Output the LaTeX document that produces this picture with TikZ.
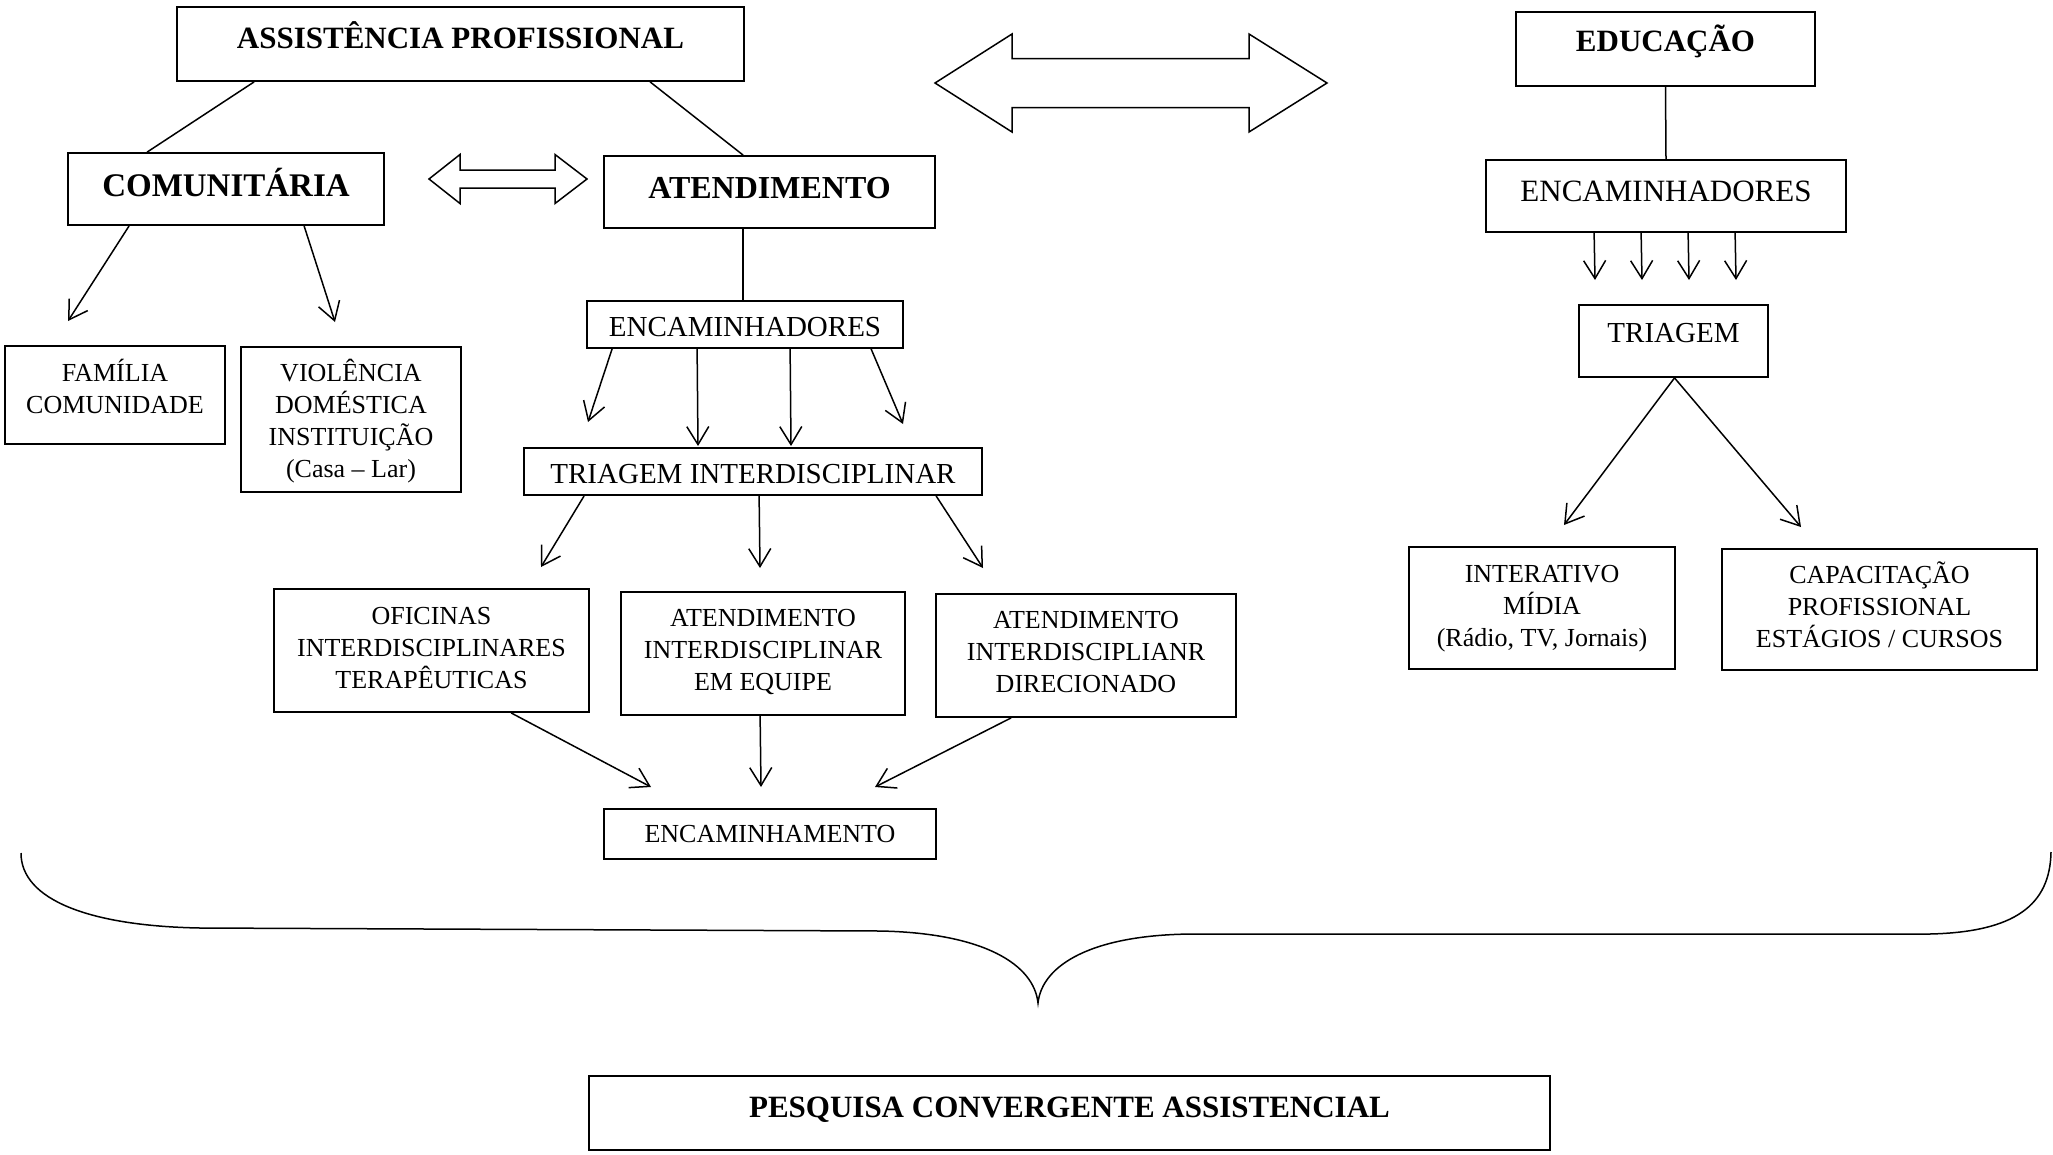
\documentclass[tikz,border=0pt]{standalone}
\usepackage{fontspec}
\setmainfont{Liberation Serif}
\usetikzlibrary{arrows.meta}
\newcommand\upbox[2]{\raisebox{#1}[\height][\depth]{#2}}
\newcommand\upml[2]{\raisebox{#1}[\height][\depth]{\begin{tabular}{@{}c@{}}#2\end{tabular}}}
\begin{document}
\begin{tikzpicture}[x=1pt,y=-1pt,
 box/.style={draw, line width=1.8pt, align=center, inner sep=0pt},
 conn/.style={line width=1.5pt},
 arr/.style={line width=1.5pt, -{Straight Barb[length=18pt,width=22pt]}},
 dblarrow/.style={draw, line width=1.5pt, line join=miter},
 bigtxt/.style={font=\fontsize{31}{36}\selectfont\bfseries},
 midtxt/.style={font=\fontsize{29}{34}\selectfont},
 smalltxt/.style={font=\fontsize{26}{32}\selectfont},
]
\useasboundingbox[fill=white] (0,0) rectangle (2053,1154);

% boxes
\node[box,bigtxt,minimum width=567pt,minimum height=74pt] (assist) at (460.5,44) {\upbox{9pt}{ASSISTÊNCIA PROFISSIONAL}};
\node[box,font=\fontsize{33}{38}\selectfont\bfseries,minimum width=316pt,minimum height=72pt] (comun) at (226,189) {\upbox{6.5pt}{COMUNITÁRIA}};
\node[box,font=\fontsize{32}{38}\selectfont\bfseries,minimum width=331pt,minimum height=72pt] (atend) at (769.5,192) {\upbox{4pt}{ATENDIMENTO}};
\node[box,bigtxt,minimum width=299pt,minimum height=74pt] (edu) at (1665.5,49) {\upbox{8pt}{EDUCAÇÃO}};
\node[box,font=\fontsize{31}{36}\selectfont,minimum width=360pt,minimum height=72pt] (encR) at (1666,196) {\upbox{5pt}{ENCAMINHADORES}};
\node[box,midtxt,minimum width=189pt,minimum height=72pt] (triR) at (1673.5,341) {\upbox{8pt}{TRIAGEM}};
\node[box,smalltxt,minimum width=266pt,minimum height=122pt] (inter) at (1542,608) {\upml{0pt}{INTERATIVO\\MÍDIA\\(Rádio, TV, Jornais)}};
\node[box,smalltxt,minimum width=315pt,minimum height=121pt] (capac) at (1879.5,609.5) {\upml{0.5pt}{CAPACITAÇÃO\\PROFISSIONAL\\ESTÁGIOS / CURSOS}};
\node[box,smalltxt,minimum width=220pt,minimum height=98pt] (fam) at (115,395) {\upml{4pt}{FAMÍLIA\\COMUNIDADE}};
\node[box,smalltxt,minimum width=220pt,minimum height=145pt] (viol) at (351,419.5) {\upml{-4pt}{VIOLÊNCIA\\DOMÉSTICA\\INSTITUIÇÃO\\(Casa – Lar)}};
\node[box,midtxt,minimum width=316pt,minimum height=47pt] (encL) at (745,324.5) {\upbox{-2.5pt}{ENCAMINHADORES}};
\node[box,midtxt,minimum width=458pt,minimum height=47pt] (triL) at (753,471.5) {\upbox{-2.5pt}{TRIAGEM INTERDISCIPLINAR}};
\node[box,smalltxt,minimum width=315pt,minimum height=123pt] (ofic) at (431.5,650.5) {\upml{0.5pt}{OFICINAS\\INTERDISCIPLINARES\\TERAPÊUTICAS}};
\node[box,smalltxt,minimum width=284pt,minimum height=123pt] (ateq) at (763,653.5) {\upml{1pt}{ATENDIMENTO\\INTERDISCIPLINAR\\EM EQUIPE}};
\node[box,smalltxt,minimum width=300pt,minimum height=123pt] (atdir) at (1086,655.5) {\upml{1.5pt}{ATENDIMENTO\\INTERDISCIPLIANR\\DIRECIONADO}};
\node[box,smalltxt,minimum width=332pt,minimum height=50pt] (encam) at (770,834) {ENCAMINHAMENTO};
\node[box,bigtxt,minimum width=961pt,minimum height=74pt] (pesq) at (1069.5,1113) {\upbox{3pt}{PESQUISA CONVERGENTE ASSISTENCIAL}};

% arrow tip coordinates
\coordinate (t1) at (68,321);
\coordinate (t2) at (335,322);
\coordinate (t3) at (588,422);
\coordinate (t4) at (698,446);
\coordinate (t5) at (791,446);
\coordinate (t6) at (903,424);
\coordinate (t7) at (541,567);
\coordinate (t8) at (760,568);
\coordinate (t9) at (983,568);
\coordinate (t10) at (651,787);
\coordinate (t11) at (761,787);
\coordinate (t12) at (875,787);
\coordinate (r1) at (1595,280);
\coordinate (r2) at (1642,280);
\coordinate (r3) at (1689,280);
\coordinate (r4) at (1736,280);
\coordinate (r5) at (1564,525);
\coordinate (r6) at (1801,527);

% plain lines
\draw[conn] ([xshift=78pt]assist.south west) -- ([xshift=80pt]comun.north west);
\draw[conn] ([xshift=474pt]assist.south west) -- ([xshift=140pt]atend.north west);
\draw[conn] ([xshift=140pt]atend.south west) -- ([xshift=157pt]encL.north west);
\draw[conn] (edu.south) -- (encR.north);

% arrows left
\draw[arr] ([xshift=62pt]comun.south west) -- (t1);
\draw[arr] ([xshift=237pt]comun.south west) -- (t2);
\draw[arr] ([xshift=26pt]encL.south west) -- (t3);
\draw[arr] ([xshift=111pt]encL.south west) -- (t4);
\draw[arr] ([xshift=204pt]encL.south west) -- (t5);
\draw[arr] ([xshift=285pt]encL.south west) -- (t6);
\draw[arr] ([xshift=61pt]triL.south west) -- (t7);
\draw[arr] ([xshift=236pt]triL.south west) -- (t8);
\draw[arr] ([xshift=413pt]triL.south west) -- (t9);
\draw[arr] ([xshift=238pt]ofic.south west) -- (t10);
\draw[arr] ([xshift=140pt]ateq.south west) -- (t11);
\draw[arr] ([xshift=76pt]atdir.south west) -- (t12);

% arrows right
\draw[arr] ([xshift=109pt]encR.south west) -- (r1);
\draw[arr] ([xshift=156pt]encR.south west) -- (r2);
\draw[arr] ([xshift=203pt]encR.south west) -- (r3);
\draw[arr] ([xshift=250pt]encR.south west) -- (r4);
\draw[arr] ([xshift=1pt]triR.south) -- (r5);
\draw[arr] ([xshift=1pt]triR.south) -- (r6);

% double block arrows
\draw[dblarrow] (429,179) -- (460,154.5) -- (460,170) -- (555,170) -- (555,154.5) -- (587,179)
  -- (555,203.5) -- (555,188) -- (460,188) -- (460,203.5) -- cycle;
\draw[dblarrow] (935,83) -- (1012,34) -- (1012,58.5) -- (1249,58.5) -- (1249,34) -- (1327,83)
  -- (1249,132) -- (1249,107.5) -- (1012,107.5) -- (1012,132) -- cycle;

% brace
\draw[conn] (21,853) .. controls (21,900) and (90,926) .. (200,928) -- (880,931)
  .. controls (985,933) and (1034,965) .. (1038,1003)
  .. controls (1042,965) and (1092,934) .. (1196,934) -- (1930,934)
  .. controls (2015,932) and (2050,905) .. (2051,852);
\end{tikzpicture}
\end{document}
